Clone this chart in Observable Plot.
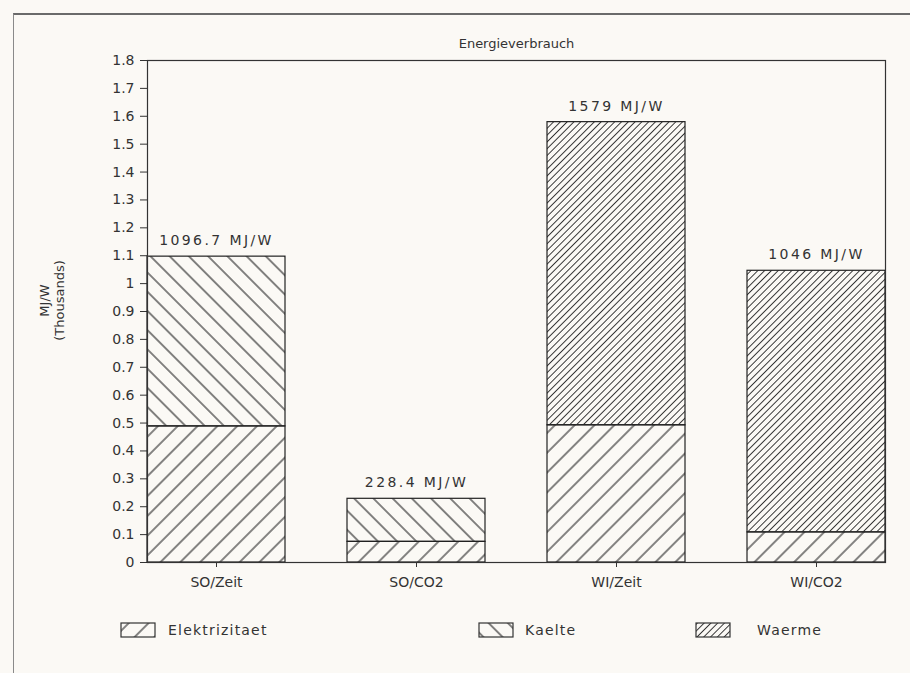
<!DOCTYPE html>
<html>
<head>
<meta charset="utf-8">
<script src="https://cdn.jsdelivr.net/npm/d3@7"></script>
<script src="https://cdn.jsdelivr.net/npm/@observablehq/plot@0.6"></script>
<style>
html, body { margin: 0; padding: 0; background: #fbf9f5; }
#wrap { position: relative; width: 910px; height: 673px; overflow: hidden; font-family: "DejaVu Sans", sans-serif; }
#border { position: absolute; left: 13px; top: 13px; width: 940px; height: 720px; border-left: 1.5px solid #8a8a8a; border-top: 2px solid #6a6a6a; pointer-events: none; }
#legend { position: absolute; top: 622px; left: 0; width: 910px; height: 20px; }
.item { position: absolute; top: 0; display: flex; align-items: center; font-size: 14px; letter-spacing: 1.2px; color: #333; }
</style>
</head>
<body>
<svg width="0" height="0" style="position:absolute">
  <defs>
    <pattern id="p-el" patternUnits="userSpaceOnUse" width="14" height="14" patternTransform="rotate(45)">
      <line x1="7" y1="0" x2="7" y2="14" stroke="#333" stroke-width="1.2"/>
    </pattern>
    <pattern id="p-ka" patternUnits="userSpaceOnUse" width="13.6" height="13.6" patternTransform="rotate(-45)">
      <line x1="6.8" y1="0" x2="6.8" y2="13.6" stroke="#333" stroke-width="1.2"/>
    </pattern>
    <pattern id="p-wa" patternUnits="userSpaceOnUse" width="4.8" height="4.8" patternTransform="rotate(45)">
      <line x1="2.4" y1="0" x2="2.4" y2="4.8" stroke="#333" stroke-width="1"/>
    </pattern>
  </defs>
</svg>
<div id="wrap">
  <div id="chart"></div>
  <div id="legend"></div>
  <div id="border"></div>
</div>
<script>
// ---- data (MJ/W) ----
const categories = ["SO/Zeit", "SO/CO2", "WI/Zeit", "WI/CO2"];
const seriesNames = ["Elektrizitaet", "Kaelte", "Waerme"];
const elektrizitaet = [488, 74, 492, 108];
const kaelte = [608.7, 154.4, 0, 0];
const waerme = [0, 0, 1087, 938];
const totals = [1096.7, 228.4, 1579, 1046];
const totalLabels = ["1096.7 MJ/W", "228.4 MJ/W", "1579 MJ/W", "1046 MJ/W"];
const yTicks = [0, 0.1, 0.2, 0.3, 0.4, 0.5, 0.6, 0.7, 0.8, 0.9, 1, 1.1, 1.2, 1.3, 1.4, 1.5, 1.6, 1.7, 1.8];
const title = "Energieverbrauch";
const yLabel = "MJ/W\n(Thousands)";

const patternOf = { Elektrizitaet: "url(#p-el)", Kaelte: "url(#p-ka)", Waerme: "url(#p-wa)" };
const seriesValues = [elektrizitaet, kaelte, waerme];

const rows = [];
categories.forEach((c, i) => {
  seriesNames.forEach((s, j) => {
    const v = seriesValues[j][i];
    if (v > 0) rows.push({ category: c, series: s, value: v / 1000, pattern: patternOf[s] });
  });
});
const totalRows = categories.map((c, i) => ({ category: c, total: totals[i] / 1000, label: totalLabels[i] }));

const chart = Plot.plot({
  width: 910,
  height: 610,
  marginLeft: 147,
  marginRight: 25,
  marginTop: 60,
  marginBottom: 48,
  style: { background: "transparent", fontFamily: "'DejaVu Sans', sans-serif", fontSize: "14px", color: "#333" },
  x: { domain: categories, paddingInner: 0.31, paddingOuter: 0, label: null, tickSize: 5, tickPadding: 10 },
  y: { domain: [0, 1.8], ticks: yTicks, tickFormat: d => String(+d.toFixed(1)), label: null, tickSize: 7, tickPadding: 6 },
  color: { type: "identity" },
  marks: [
    Plot.barY(rows, Plot.stackY({ x: "category", y: "value", fill: "pattern", stroke: "#222", strokeWidth: 1.2, inset: 0 })),
    Plot.frame({ stroke: "#333", strokeWidth: 1.2 }),
    Plot.text(totalRows, { x: "category", y: "total", text: "label", dy: -16, fontSize: 14, fill: "#333" }),
    Plot.text([title], { frameAnchor: "top", dy: -22, fontSize: 13, fill: "#333" }),
    Plot.text([yLabel], { frameAnchor: "left", textAnchor: "middle", rotate: -90, dx: -96, dy: -11, lineHeight: 1.2, fontSize: 13, fill: "#333" })
  ]
});
// widen the spacing of the total labels (plotter-style lettering)
d3.select(chart).selectAll("text").filter(function () { return totalLabels.includes(this.textContent); })
  .attr("letter-spacing", "2.4px");
document.getElementById("chart").appendChild(chart);

// ---- legend ----
const legendPos = [{ x: 120, tx: 168 }, { x: 478, tx: 525 }, { x: 695, tx: 757 }];
const legend = document.getElementById("legend");
seriesNames.forEach((s, i) => {
  const item = document.createElement("div");
  item.className = "item";
  item.style.left = legendPos[i].x + "px";
  const gap = legendPos[i].tx - legendPos[i].x - 36;
  item.innerHTML = `<svg width="36" height="16" style="margin-right:${gap}px"><rect x="1" y="1" width="34" height="14" fill="${patternOf[s]}" stroke="#333" stroke-width="1.2"/></svg><span>${s}</span>`;
  legend.appendChild(item);
});
</script>
</body>
</html>
